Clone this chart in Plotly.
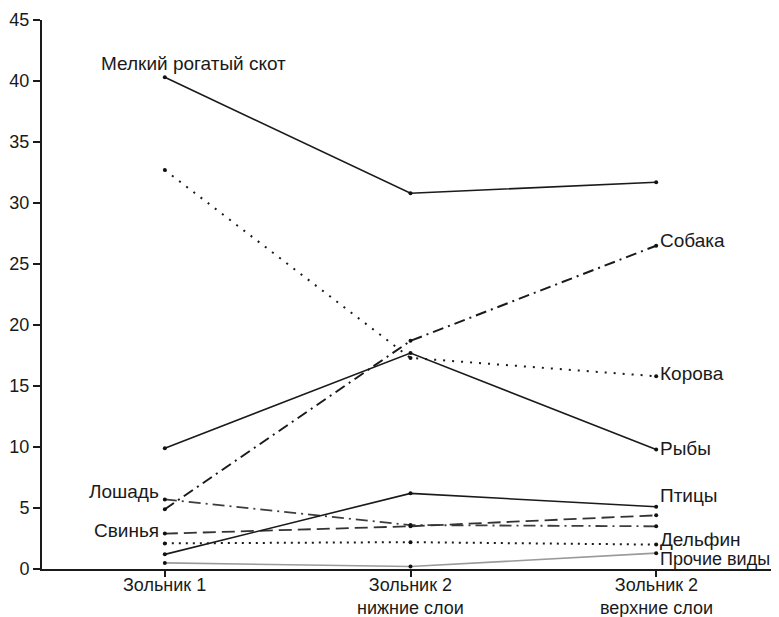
import plotly.graph_objects as go

SITES = ["Зольник 1", "Зольник 2<br>нижние слои", "Зольник 2<br>верхние слои"]

SMALL_CATTLE = [40.3, 30.8, 31.7]
COW = [32.7, 17.3, 15.8]
FISH = [9.9, 17.7, 9.8]
DOG = [4.9, 18.7, 26.5]
HORSE = [5.7, 3.6, 3.5]
PIG = [2.9, 3.5, 4.4]
BIRDS = [1.2, 6.2, 5.1]
DOLPHIN = [2.1, 2.2, 2.0]
OTHER = [0.5, 0.2, 1.3]

SERIES = [
    ("Мелкий рогатый скот", SMALL_CATTLE),
    ("Корова", COW),
    ("Рыбы", FISH),
    ("Собака", DOG),
    ("Лошадь", HORSE),
    ("Свинья", PIG),
    ("Птицы", BIRDS),
    ("Дельфин", DOLPHIN),
    ("Прочие виды", OTHER),
]

# line look per series: colour, width, dash
STYLES = {
    "Мелкий рогатый скот": ("#1a1a1a", 1.6, "solid"),
    "Корова": ("#1a1a1a", 2, "2px,7px"),
    "Рыбы": ("#1a1a1a", 1.6, "solid"),
    "Собака": ("#1a1a1a", 2, "11px,5px,2px,5px"),
    "Лошадь": ("#3d3d3d", 1.8, "12px,5px,2px,5px"),
    "Свинья": ("#333333", 1.8, "13px,6px"),
    "Птицы": ("#1a1a1a", 1.6, "solid"),
    "Дельфин": ("#1a1a1a", 2, "2px,5px"),
    "Прочие виды": ("#9a9a9a", 1.6, "solid"),
}

FONT = "Liberation Sans, Arial, sans-serif"

fig = go.Figure()
for name, vals in SERIES:
    color, width, dash = STYLES[name]
    fig.add_trace(
        go.Scatter(
            x=SITES,
            y=vals,
            name=name,
            mode="lines+markers",
            line=dict(color=color, width=width, dash=dash),
            marker=dict(color="#111111", size=4),
            showlegend=False,
            cliponaxis=False,
        )
    )

lbl = dict(size=19)

# labels at the left end
fig.add_annotation(x=SITES[0], y=SMALL_CATTLE[0], text="Мелкий рогатый скот",
                   showarrow=False, xanchor="center", yanchor="bottom",
                   xshift=29, yshift=1, font=lbl)
fig.add_annotation(x=SITES[0], y=HORSE[0], text="Лошадь", showarrow=False,
                   xanchor="right", xshift=-4, yshift=8, font=lbl)
fig.add_annotation(x=SITES[0], y=PIG[0], text="Свинья", showarrow=False,
                   xanchor="right", xshift=-4, yshift=3, font=lbl)

# labels at the right end
right_labels = [
    ("Собака", DOG, 5, 19),
    ("Корова", COW, 3, 19),
    ("Рыбы", FISH, 1, 19),
    ("Птицы", BIRDS, 11, 19),
    ("Дельфин", DOLPHIN, 5, 19),
    ("Прочие виды", OTHER, -6, 18),
]
for text, vals, dy, fs in right_labels:
    fig.add_annotation(x=SITES[2], y=vals[2], text=text, showarrow=False,
                       xanchor="left", xshift=2, yshift=dy, font=dict(size=fs))

# category names under the axis (placed by hand so they sit close to it)
for site in SITES:
    fig.add_annotation(x=site, y=0, yref="paper", text=site, showarrow=False,
                       xanchor="center", yanchor="top", yshift=-4)

# the page adds an 8px body margin, so the margins are shifted by that
fig.update_layout(
    width=779,
    height=617,
    margin=dict(l=34, r=8, t=12, b=56),
    plot_bgcolor="white",
    paper_bgcolor="white",
    font=dict(family=FONT, size=18, color="#1a1a1a"),
)
fig.update_xaxes(
    type="category",
    range=[-0.5, 2.5],
    automargin=False,
    showline=True,
    linecolor="#1a1a1a",
    linewidth=2,
    ticks="outside",
    ticklen=6,
    tickwidth=2,
    tickcolor="#1a1a1a",
    showgrid=False,
    showticklabels=False,
)
fig.update_yaxes(
    range=[0, 45],
    dtick=5,
    automargin=False,
    showline=True,
    linecolor="#1a1a1a",
    linewidth=2,
    ticks="outside",
    ticklen=7,
    tickwidth=2,
    tickcolor="#1a1a1a",
    showgrid=False,
    zeroline=False,
    tickfont=dict(size=18),
)

fig.write_html("out.html")
